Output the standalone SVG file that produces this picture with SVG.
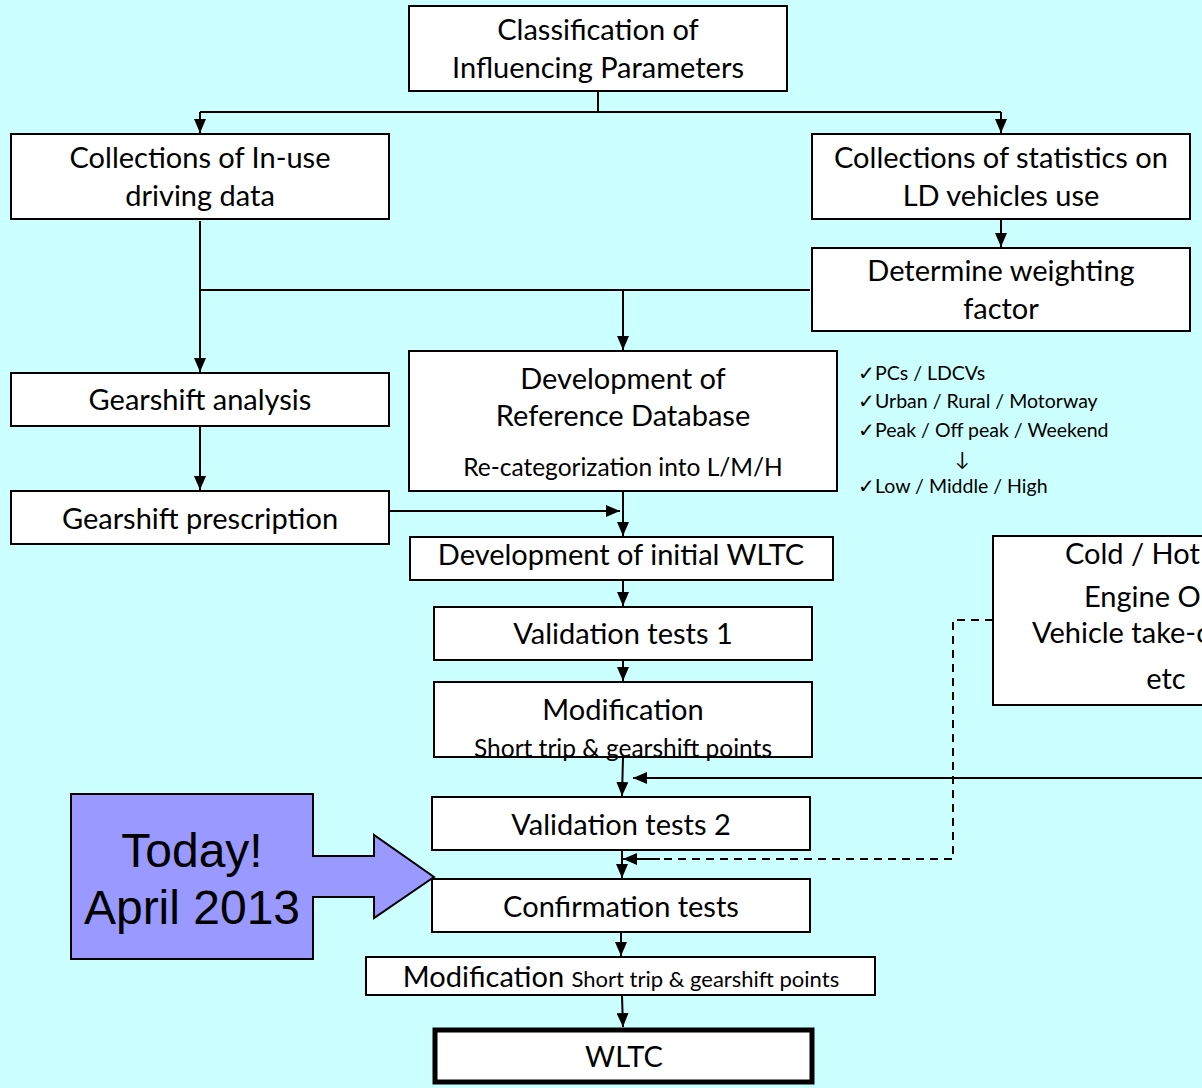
<svg xmlns="http://www.w3.org/2000/svg" width="1202" height="1088" viewBox="0 0 1202 1088">
  <defs>
    <marker id="arr" markerWidth="14" markerHeight="12" refX="14" refY="6" orient="auto" markerUnits="userSpaceOnUse">
      <path d="M0,0 L14,6 L0,12 Z" fill="#000"/>
    </marker>
    <style>
      .box { fill: #fff; stroke: #000; stroke-width: 2; }
      .t { font-family: Lato, "Open Sans", sans-serif; font-size: 29px; fill: #000; text-anchor: middle; }
      .s { font-size: 24.5px; }
      .xs { font-size: 22px; }
      .l { text-anchor: start; }
      .chk { font-family: Lato, "Open Sans", sans-serif; font-size: 19.5px; fill: #000; }
      .ln { fill: none; stroke: #000; stroke-width: 2; }
      .ar { fill: none; stroke: #000; stroke-width: 2; marker-end: url(#arr); }
      .dash { fill: none; stroke: #000; stroke-width: 2; stroke-dasharray: 8 6; }
    </style>
  </defs>
  <rect width="1202" height="1088" fill="#ccffff"/>

  <!-- connectors -->
  <g id="connectors">
    <path class="ln" d="M598,91 V112 M200,112 H1001"/>
    <path class="ar" d="M200,112 V133"/>
    <path class="ar" d="M1001,112 V133"/>
    <path class="ar" d="M200,221 V372"/>
    <path class="ln" d="M200,290 H810"/>
    <path class="ar" d="M623,290 V350"/>
    <path class="ar" d="M1001,219 V247"/>
    <path class="ar" d="M200,426 V490"/>
    <path class="ar" d="M389,511 H620"/>
    <path class="ar" d="M623,491 V536"/>
    <path class="ar" d="M623,580 V606"/>
    <path class="ar" d="M623,660 V681"/>
    <path class="ar" d="M623,757 L622,796"/>
    <path class="ar" d="M1202,778 H633"/>
    <path class="ar" d="M622,850 V878"/>
    <path class="dash" d="M993,620 H953 V859 H660"/>
    <path class="ar" d="M660,859 H623"/>
    <path class="ar" d="M621,932 V956"/>
    <path class="ar" d="M622,995 L623,1027"/>
  </g>

  <g id="n-classification">
    <rect class="box" x="409" y="6" width="378" height="85"/>
    <text class="t" x="598" y="40">Classification of</text>
    <text class="t" x="598" y="78">Influencing Parameters</text>
  </g>
  <g id="n-inuse">
    <rect class="box" x="11" y="134" width="378" height="85"/>
    <text class="t" x="200" y="168">Collections of In-use</text>
    <text class="t" x="200" y="206">driving data</text>
  </g>
  <g id="n-stats">
    <rect class="box" x="812" y="134" width="378" height="85"/>
    <text class="t" x="1001" y="168">Collections of statistics on</text>
    <text class="t" x="1001" y="206">LD vehicles use</text>
  </g>
  <g id="n-weighting">
    <rect class="box" x="812" y="248" width="378" height="83"/>
    <text class="t" x="1001" y="281">Determine weighting</text>
    <text class="t" x="1001" y="319">factor</text>
  </g>
  <g id="n-gear-analysis">
    <rect class="box" x="11" y="373" width="378" height="53"/>
    <text class="t" x="200" y="410">Gearshift analysis</text>
  </g>
  <g id="n-refdb">
    <rect class="box" x="409" y="351" width="428" height="140"/>
    <text class="t" x="623" y="389">Development of</text>
    <text class="t" x="623" y="426">Reference Database</text>
    <text class="t s" x="623" y="476">Re-categorization into L/M/H</text>
  </g>
  <g id="n-checklist">
    <text class="chk" x="858" y="380">✓PCs / LDCVs</text>
    <text class="chk" x="858" y="408">✓Urban / Rural / Motorway</text>
    <text class="chk" x="858" y="437">✓Peak / Off peak / Weekend</text>
    <text class="chk" x="955" y="466">↓</text>
    <text class="chk" x="858" y="493">✓Low / Middle / High</text>
  </g>
  <g id="n-gear-prescription">
    <rect class="box" x="11" y="491" width="378" height="53"/>
    <text class="t" x="200" y="529">Gearshift prescription</text>
  </g>
  <g id="n-initial-wltc">
    <rect class="box" x="410" y="537" width="423" height="43"/>
    <text class="t" x="621" y="565">Development of initial WLTC</text>
  </g>
  <g id="n-validation1">
    <rect class="box" x="434" y="607" width="378" height="53"/>
    <text class="t" x="623" y="644">Validation tests 1</text>
  </g>
  <g id="n-modification1">
    <rect class="box" x="434" y="682" width="378" height="75"/>
    <text class="t" x="623" y="720">Modification</text>
    <text class="t s" x="623" y="757">Short trip &amp; gearshift points</text>
  </g>
  <g id="n-conditions">
    <rect class="box" x="993" y="536" width="260" height="169"/>
    <text class="t l" x="1065" y="564">Cold / Hot</text>
    <text class="t l" x="1084" y="607">Engine On</text>
    <text class="t l" x="1032" y="643">Vehicle take-o</text>
    <text class="t" x="1166" y="689">etc</text>
  </g>
  <g id="n-validation2">
    <rect class="box" x="432" y="797" width="378" height="53"/>
    <text class="t" x="621" y="835">Validation tests 2</text>
  </g>
  <g id="n-today">
    <path d="M71,794 H313 V856 H374 V835 L434,877 L374,918 V897 H313 V959 H71 Z" fill="#9999ff" stroke="#000" stroke-width="2"/>
    <text x="192" y="867" font-family="Liberation Sans, Arial, sans-serif" font-size="48" text-anchor="middle">Today!</text>
    <text x="192" y="924" font-family="Liberation Sans, Arial, sans-serif" font-size="48" text-anchor="middle">April 2013</text>
  </g>
  <g id="n-confirmation">
    <rect class="box" x="432" y="879" width="378" height="53"/>
    <text class="t" x="621" y="917">Confirmation tests</text>
  </g>
  <g id="n-modification2">
    <rect class="box" x="366" y="957" width="509" height="38"/>
    <text class="t" x="621" y="987">Modification <tspan class="xs">Short trip &amp; gearshift points</tspan></text>
  </g>
  <g id="n-wltc">
    <rect x="435" y="1030" width="377" height="52" fill="#fff" stroke="#000" stroke-width="5"/>
    <text class="t" x="624" y="1067">WLTC</text>
  </g>
</svg>
